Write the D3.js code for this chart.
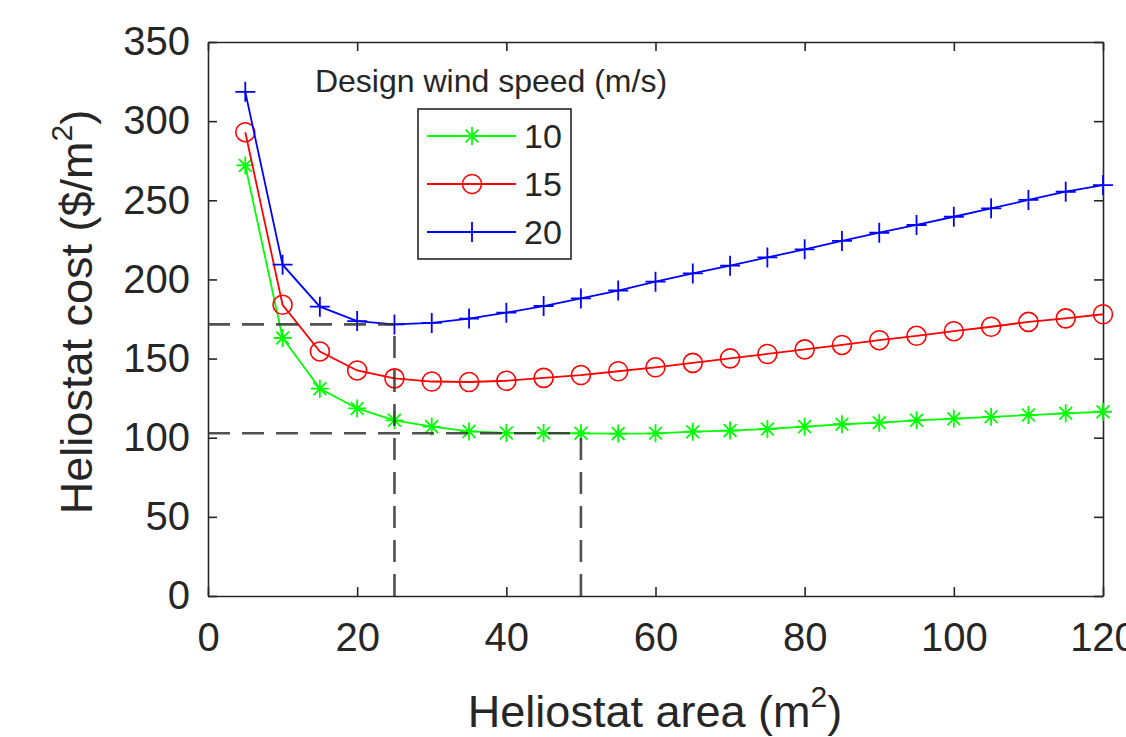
<!DOCTYPE html>
<head>
    <meta charset='utf-8'>
    <style>
        body {
            margin: 0;
            background: #fff;
            font-family: 'Liberation Sans', Arial, Helvetica, sans-serif;
        }
        .axis text {
            font-family: 'Liberation Sans', Arial, Helvetica, sans-serif;
            font-size: 40px;
            fill: #262626;
        }
        .axis path, .axis line {
            stroke: #262626;
            stroke-width: 1.6px;
        }
        .title {
            fill: #262626;
        }
    </style>
</head>

<body>
<div id='vis'></div>
<script src='https://d3js.org/d3.v7.min.js'></script>
<script>
  // heliostat area (m^2)
  const area = [5, 10, 15, 20, 25, 30, 35, 40, 45, 50, 55, 60, 65, 70, 75, 80, 85, 90, 95, 100, 105, 110, 115, 120]

  // heliostat cost ($/m^2) per design wind speed
  const cost10 = [272, 163, 131, 118.5, 111, 107, 104, 103, 103, 102.8, 102.6, 102.8, 103.8, 104.5, 105.5, 107, 108.5, 109.5, 111, 112, 113.2, 114.3, 115.4, 116.4]
  const cost15 = [293, 184, 154.5, 142.5, 137.5, 135.5, 135.2, 136, 137.8, 139.6, 142, 144.5, 147.3, 150.1, 152.9, 155.8, 158.6, 161.6, 164.4, 167.3, 170.1, 173.2, 175.4, 178]
  const cost20 = [318.5, 209.3, 182.8, 173.7, 171.6, 172.5, 175.3, 179, 183.2, 188, 193, 198.6, 203.8, 208.7, 213.9, 219, 224.3, 229.5, 234.4, 239.6, 244.9, 250.2, 255.4, 259.6]

  const speeds = ['10', '15', '20']
  const xTicks = [0, 20, 40, 60, 80, 100, 120]
  const yTicks = [0, 50, 100, 150, 200, 250, 300, 350]

  const series = [
    {name: speeds[0], values: cost10, color: '#00ff00', marker: 'star'},
    {name: speeds[1], values: cost15, color: '#ff0000', marker: 'circle'},
    {name: speeds[2], values: cost20, color: '#0000ff', marker: 'plus'}
  ]

  const margin = {top: 42, right: 23, bottom: 141, left: 208},
    width = 1126 - margin.left - margin.right,
    height = 737 - margin.top - margin.bottom

  const x = d3.scaleLinear().domain([0, 120]).range([0, width])
  const y = d3.scaleLinear().domain([0, 350]).range([height, 0])

  const svg = d3.select('#vis')
    .append('svg')
    .attr('width', 1126)
    .attr('height', 737)

  const g = svg.append('g')
    .attr('transform', `translate(${margin.left}, ${margin.top})`)

  // marker shapes, drawn around (0,0)
  function markerPath(type) {
    if (type === 'plus') {
      const r = 10
      return `M${-r},0H${r}M0,${-r}V${r}`
    }
    if (type === 'star') {
      const r = 9, d = 6.4
      return `M${-r},0H${r}M0,${-r}V${r}M${-d},${-d}L${d},${d}M${-d},${d}L${d},${-d}`
    }
    return null
  }

  function drawMarker(sel, type, color) {
    if (type === 'circle') {
      sel.append('circle')
        .attr('r', 9.5)
        .attr('fill', 'none')
        .attr('stroke', color)
        .attr('stroke-width', 1.6)
    } else {
      sel.append('path')
        .attr('d', markerPath(type))
        .attr('fill', 'none')
        .attr('stroke', color)
        .attr('stroke-width', 1.8)
    }
  }

  // axes (box with inward ticks on all four sides)
  g.append('g')
    .attr('class', 'axis')
    .attr('transform', `translate(0, ${height})`)
    .call(d3.axisBottom(x).tickValues(xTicks).tickSizeInner(-9).tickSizeOuter(0).tickPadding(27))

  g.append('g')
    .attr('class', 'axis')
    .call(d3.axisLeft(y).tickValues(yTicks).tickSizeInner(-9).tickSizeOuter(0).tickPadding(18))

  g.append('g')
    .attr('class', 'axis')
    .call(d3.axisTop(x).tickValues(xTicks).tickSizeInner(-9).tickSizeOuter(0).tickFormat(''))

  g.append('g')
    .attr('class', 'axis')
    .attr('transform', `translate(${width}, 0)`)
    .call(d3.axisRight(y).tickValues(yTicks).tickSizeInner(-9).tickSizeOuter(0).tickFormat(''))

  // curves
  const line = d3.line()
    .x((d, i) => x(area[i]))
    .y(d => y(d))

  series.forEach(s => {
    g.append('path')
      .datum(s.values)
      .attr('fill', 'none')
      .attr('stroke', s.color)
      .attr('stroke-width', 1.8)
      .attr('d', line)

    g.append('g')
      .selectAll('g')
      .data(s.values)
      .enter()
      .append('g')
      .attr('transform', (d, i) => `translate(${x(area[i])}, ${y(d)})`)
      .each(function () { drawMarker(d3.select(this), s.marker, s.color) })
  })

  // dashed guides at the optimum points
  const opt20 = area.indexOf(25), opt10 = area.indexOf(50)
  const guides = [
    {xv: area[opt20], yv: cost20[opt20]},
    {xv: area[opt10], yv: cost10[opt10]}
  ]
  guides.forEach(d => {
    g.append('path')
      .attr('d', `M${x(0)},${y(d.yv)}H${x(d.xv)}M${x(d.xv)},${y(0)}V${y(d.yv)}`)
      .attr('fill', 'none')
      .attr('stroke', '#333')
      .attr('stroke-opacity', 0.85)
      .attr('stroke-width', 2.6)
      .attr('stroke-dasharray', '22,12')
  })

  // legend
  svg.append('text')
    .attr('class', 'title')
    .attr('x', 491)
    .attr('y', 92)
    .attr('text-anchor', 'middle')
    .style('font-size', '32px')
    .text('Design wind speed (m/s)')

  const legend = svg.append('g')
    .attr('transform', 'translate(418, 109)')

  legend.append('rect')
    .attr('width', 153)
    .attr('height', 150)
    .attr('fill', '#fff')
    .attr('stroke', '#262626')
    .attr('stroke-width', 1.6)

  series.forEach((s, i) => {
    const row = legend.append('g')
      .attr('transform', `translate(0, ${27 + i * 48})`)
    row.append('line')
      .attr('x1', 9).attr('x2', 98)
      .attr('stroke', s.color)
      .attr('stroke-width', 1.8)
    const m = row.append('g').attr('transform', 'translate(54, 0)')
    drawMarker(m, s.marker, s.color)
    row.append('text')
      .attr('class', 'title')
      .attr('x', 106)
      .attr('dy', '0.36em')
      .style('font-size', '34px')
      .text(s.name)
  })

  // axis titles with a superscript 2
  function axisTitle(sel, main) {
    sel.append('tspan').text(main)
    sel.append('tspan').attr('dy', -20).style('font-size', '30px').text('2')
    sel.append('tspan').attr('dy', 20).text(')')
  }

  const xt = svg.append('text')
    .attr('class', 'title')
    .attr('x', 655)
    .attr('y', 727)
    .attr('text-anchor', 'middle')
    .style('font-size', '45px')
  axisTitle(xt, 'Heliostat area (m')

  const yt = svg.append('text')
    .attr('class', 'title')
    .attr('transform', 'translate(92, 312) rotate(-90)')
    .attr('text-anchor', 'middle')
    .style('font-size', '45px')
  axisTitle(yt, 'Heliostat cost ($/m')
</script>
</body>
